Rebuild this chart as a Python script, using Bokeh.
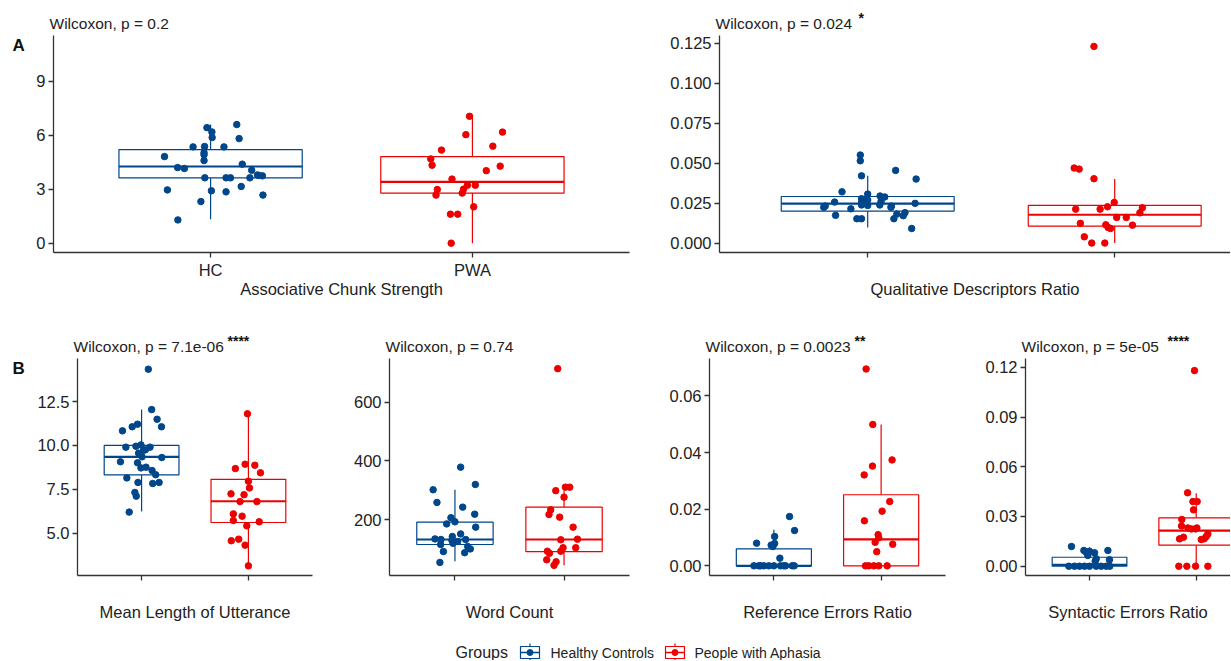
from bokeh.plotting import figure
from bokeh.models import Range1d, FixedTicker, NumeralTickFormatter, Label, ColumnDataSource, Title
from bokeh.layouts import column, row
from bokeh.embed import file_html
from bokeh.resources import INLINE

# ---------------- data ----------------
groups = ["HC", "PWA"]
legend_labels = ["Healthy Controls", "People with Aphasia"]

# A1: Associative Chunk Strength
acs_hc = [4.81, 4.20, 4.15, 5.35, 5.37, 4.91, 4.59, 5.03, 6.42, 6.18, 5.87, 5.35, 5.81, 6.59, 4.39,
          4.05, 3.79, 3.74, 3.76, 3.63, 3.63, 3.63, 3.63, 2.96, 2.91, 2.85, 3.15, 2.31, 2.67, 1.29]
acs_hc_jit = [-0.176, -0.126, -0.10, -0.067, -0.023, -0.025, -0.025, -0.025, -0.014, 0.005, 0.006, 0.051,
              0.109, 0.10, 0.121, 0.157, 0.179, 0.198, 0.185, -0.022, 0.059, 0.076, 0.15, -0.165, 0.003,
              0.059, 0.117, -0.037, 0.20, -0.125]
acs_pwa = [7.05, 6.03, 6.17, 5.39, 5.17, 4.68, 4.33, 4.28, 4.03, 3.56, 2.98, 2.67, 3.00, 2.78, 3.22,
           3.22, 1.61, 1.61, 2.02, 0.0]
acs_pwa_jit = [-0.011, -0.025, 0.115, 0.078, -0.118, -0.159, -0.154, 0.106, 0.053, -0.078, -0.134, -0.139,
               -0.034, -0.039, -0.019, 0.011, -0.084, -0.056, 0.005, -0.081]
acs_hc_box = [1.33, 3.63, 4.26, 5.20, 6.60]     # lower whisker, Q1, median, Q3, upper whisker
acs_pwa_box = [0.0, 2.78, 3.41, 4.81, 7.07]

# A2: Qualitative Descriptors Ratio
qdr_hc = [0.055, 0.0514, 0.042, 0.0454, 0.040, 0.032, 0.0256, 0.0223, 0.0231, 0.0173, 0.0214, 0.0152,
          0.0152, 0.0277, 0.0252, 0.0306, 0.0269, 0.0238, 0.0235, 0.0294, 0.0288, 0.026, 0.0238, 0.0231,
          0.0223, 0.0181, 0.0152, 0.0171, 0.019, 0.0248, 0.0091]
qdr_hc_jit = [-0.03, -0.03, -0.025, 0.113, 0.196, -0.104, -0.134, -0.178, -0.172, -0.13, -0.068, -0.044,
              -0.025, -0.025, -0.025, 0.0, 0.0, -0.025, 0.0, 0.05, 0.069, 0.054, 0.049, 0.096, 0.094,
              0.118, 0.106, 0.144, 0.151, 0.192, 0.178]
qdr_pwa = [0.1229, 0.0469, 0.0462, 0.0402, 0.0254, 0.0227, 0.0212, 0.0212, 0.0221, 0.0189, 0.016, 0.016,
           0.0123, 0.0114, 0.0091, 0.0112, 0.0039, 0.0, 0.0, 0.0098]
qdr_pwa_jit = [-0.084, -0.164, -0.144, -0.084, -0.002, -0.029, -0.158, -0.059, 0.112, 0.102, 0.008, 0.047,
               -0.139, -0.036, -0.017, 0.072, -0.123, -0.093, -0.04, -0.027]
qdr_hc_box = [0.0098, 0.0200, 0.0246, 0.0291, 0.042]
qdr_pwa_box = [0.0, 0.0106, 0.0177, 0.0235, 0.040]

# B1: Mean Length of Utterance
mlu_hc = [14.34, 12.04, 11.49, 11.06, 10.83, 11.06, 11.21, 9.90, 9.95, 10.03, 9.75, 9.90, 9.56, 9.31,
          9.07, 9.01, 8.72, 8.76, 8.57, 8.33, 8.15, 7.89, 7.83, 7.89, 7.32, 7.11, 6.20, 9.35, 9.73]
mlu_hc_jit = [0.063, 0.094, 0.145, 0.186, -0.179, -0.088, -0.038, -0.147, -0.053, -0.006, 0.035, 0.079,
              -0.028, 0.189, -0.198, -0.038, -0.006, 0.041, 0.098, 0.132, -0.138, -0.034, 0.104, 0.164,
              -0.063, -0.05, -0.116, 0.004, 0.019]
mlu_pwa = [11.8, 8.87, 8.93, 8.68, 8.44, 7.96, 7.58, 7.24, 7.19, 6.8, 6.8, 6.1, 5.97, 5.72, 5.65, 5.42,
           4.57, 4.66, 4.32, 3.14]
mlu_pwa_jit = [-0.009, 0.06, -0.031, -0.122, 0.113, 0.0, 0.01, -0.163, -0.041, -0.078, 0.079, -0.141,
               -0.059, -0.141, 0.101, -0.015, -0.16, -0.091, -0.031, 0.0]
mlu_hc_box = [6.24, 8.32, 9.35, 10.0, 12.04]
mlu_pwa_box = [3.16, 5.61, 6.82, 8.07, 11.8]

# B2: Word Count
wc_hc = [379, 320, 302, 259, 243, 219, 207, 193, 186, 175, 152, 135, 133, 133, 143, 130, 120, 126, 116,
         109, 101, 92, 88, 55]
wc_hc_jit = [0.052, 0.187, -0.2, -0.165, 0.071, 0.181, -0.037, 0.0, -0.076, 0.19, 0.052, -0.183, -0.128,
             0.098, -0.024, -0.028, -0.018, 0.025, -0.131, 0.117, 0.141, -0.106, 0.089, -0.138]
wc_pwa = [714, 299, 311, 311, 277, 234, 218, 209, 175, 132, 134, 93, 86, 93, 105, 105, 64, 57, 45]
wc_pwa_jit = [-0.058, -0.076, 0.012, 0.052, 0.0, -0.122, -0.138, -0.04, 0.083, -0.03, 0.123, -0.153,
              -0.134, -0.03, -0.009, 0.107, -0.159, -0.073, -0.092]
wc_hc_box = [59, 116, 133, 192, 302]
wc_pwa_box = [45, 92, 133, 243, 300]

# B3: Reference Errors Ratio
rer_hc = [0.0174, 0.01246, 0.01034, 0.008, 0.0073, 0.0079, 0.0068, 0.0027,
          0, 0, 0, 0, 0, 0, 0, 0, 0, 0, 0]
rer_hc_jit = [0.146, 0.193, 0.007, -0.161, -0.025, 0.007, -0.009, 0.056,
              -0.186, -0.14, -0.093, -0.047, 0.0, 0.062, 0.109, 0.171, 0.19, -0.124, 0.093]
rer_pwa = [0.0695, 0.0499, 0.0374, 0.0352, 0.0321, 0.0227, 0.0193, 0.0159, 0.011, 0.0099, 0.0083, 0.0076,
           0.005, 0, 0, 0, 0, 0]
rer_pwa_jit = [-0.14, -0.078, 0.102, -0.081, -0.158, 0.08, 0.009, -0.156, -0.028, -0.022, -0.056, 0.108,
               -0.041, -0.146, -0.116, -0.069, -0.022, 0.056]
rer_hc_box = [0, 0, 0, 0.006, 0.0127]
rer_pwa_box = [0, 0, 0.0093, 0.0251, 0.0499]

# B4: Syntactic Errors Ratio
ser_hc = [0.0119, 0.0095, 0.0095, 0.0085, 0.009, 0.0081, 0.0065, 0.0045, 0.0039, 0.003,
          0, 0, 0, 0, 0, 0, 0, 0, 0]
ser_hc_jit = [-0.169, 0.172, -0.053, -0.031, 0.0, 0.047, -0.016, 0.063, 0.187, 0.053,
              -0.194, -0.141, -0.094, -0.047, 0.0, 0.063, 0.109, 0.156, 0.19]
ser_pwa = [0.118, 0.0443, 0.039, 0.039, 0.034, 0.0282, 0.0243, 0.0231, 0.0225, 0.0225, 0.0231, 0.0165,
           0.0175, 0.0165, 0.0179, 0.0195, 0.0161, 0, 0, 0, 0]
ser_pwa_jit = [-0.016, -0.081, -0.031, 0.009, -0.025, -0.135, -0.138, -0.078, -0.044, -0.006, 0.006,
               -0.156, -0.119, 0.075, 0.094, 0.109, 0.047, -0.163, -0.088, -0.006, 0.109]
ser_hc_box = [0, 0, 0.0008, 0.0054, 0.0115]
ser_pwa_box = [0, 0.0127, 0.0215, 0.0292, 0.044]

# ---------------- style ----------------
HC_COLOR = "#00468B"
PWA_COLOR = "#ED0000"
FONT = "Liberation Sans"
TXT = "#222222"
AX = "#333333"


def make_panel(title, hc, hc_jit, pwa, pwa_jit, hc_box, pwa_box, yrange, yticks, yfmt,
               ptext, stars, star_dx, xend, width, height, bl, bt, br, bb, show_x_labels, title_dx=0):
    # outer title: significance stars (superscript-like), inner title: test result
    p = figure(width=width, height=height, x_range=Range1d(0.4, xend), y_range=Range1d(*yrange),
               output_backend="svg", toolbar_location=None, title=stars,
               min_border_left=bl, min_border_right=br, min_border_top=bt, min_border_bottom=bb)
    p.title.align = "left"
    p.title.offset = star_dx
    p.title.standoff = -33
    p.title.text_font = FONT
    p.title.text_font_size = "14px"
    p.title.text_font_style = "bold"
    p.title.text_color = "#111111"
    p.add_layout(Title(text=ptext, align="left", offset=-4, standoff=7,
                       text_font=FONT, text_font_size="15.5px", text_font_style="normal",
                       text_color=TXT), "above")
    p.xgrid.visible = False
    p.ygrid.visible = False
    p.outline_line_color = None
    p.background_fill_color = "white"
    p.border_fill_color = "white"
    for ax in (p.xaxis[0], p.yaxis[0]):
        ax.axis_line_color = AX
        ax.axis_line_width = 1.3
        ax.major_tick_line_color = AX
        ax.major_tick_line_width = 1.3
        ax.major_tick_out = 5
        ax.major_tick_in = 0
        ax.minor_tick_out = 0
        ax.minor_tick_in = 0
        ax.major_label_text_font = FONT
        ax.major_label_text_font_size = "16.5px"
        ax.major_label_text_color = TXT
        ax.major_label_standoff = 3
    p.xaxis.ticker = FixedTicker(ticks=[1, 2])
    if show_x_labels:
        p.xaxis.major_label_overrides = {1: groups[0], 2: groups[1]}
    else:
        p.xaxis.major_label_overrides = {1: " ", 2: " "}
    p.yaxis.ticker = FixedTicker(ticks=yticks)
    p.yaxis.formatter = NumeralTickFormatter(format=yfmt)

    xs = [1, 2]
    boxes = [hc_box, pwa_box]
    colors = [HC_COLOR, PWA_COLOR]
    src = ColumnDataSource(dict(
        x=xs,
        lo=[b[0] for b in boxes], q1=[b[1] for b in boxes], med=[b[2] for b in boxes],
        q3=[b[3] for b in boxes], hi=[b[4] for b in boxes],
        xl=[x - 0.35 for x in xs], xr=[x + 0.35 for x in xs], c=colors))
    p.segment(x0="x", y0="q3", x1="x", y1="hi", line_color="c", line_width=1.2, source=src)
    p.segment(x0="x", y0="q1", x1="x", y1="lo", line_color="c", line_width=1.2, source=src)
    p.quad(left="xl", right="xr", bottom="q1", top="q3", fill_color="white",
           line_color="c", line_width=1.2, source=src)
    p.segment(x0="xl", y0="med", x1="xr", y1="med", line_color="c", line_width=2.2, source=src)

    p.scatter([1 + j for j in hc_jit], hc, size=6.5, color=HC_COLOR, line_color=HC_COLOR)
    p.scatter([2 + j for j in pwa_jit], pwa, size=6.5, color=PWA_COLOR, line_color=PWA_COLOR)

    p.add_layout(Title(text=title, align="center", offset=title_dx, standoff=-7,
                       text_font=FONT, text_font_size="16.5px", text_font_style="normal",
                       text_color=TXT), "below")
    return p


def tag_fig(letter, height, bt, bb):
    fh = height - bt - bb
    f = figure(width=30, height=height, x_range=Range1d(0, 30), y_range=Range1d(0, fh),
               output_backend="svg", toolbar_location=None, x_axis_type=None, y_axis_type=None,
               min_border_left=0, min_border_right=0, min_border_top=bt, min_border_bottom=bb)
    f.xgrid.visible = False
    f.ygrid.visible = False
    f.outline_line_color = None
    f.add_layout(Label(x=12, y=fh - 10, text=letter, text_align="left", text_baseline="middle",
                       text_font=FONT, text_font_size="17px", text_font_style="bold",
                       text_color="#111111"))
    return f


ROW1_H = 318
ROW2_H = 312

pA1 = make_panel("Associative Chunk Strength", acs_hc, acs_hc_jit, acs_pwa, acs_pwa_jit,
                 acs_hc_box, acs_pwa_box, (-0.52, 11.54), [0, 3, 6, 9], "0",
                 "Wilcoxon, p = 0.2", "", 0, 2.6, 619, ROW1_H, 23, 35, 20, 66, True)
pA2 = make_panel("Qualitative Descriptors Ratio", qdr_hc, qdr_hc_jit, qdr_pwa, qdr_pwa_jit,
                 qdr_hc_box, qdr_pwa_box, (-0.0059, 0.1297), [0, 0.025, 0.05, 0.075, 0.1, 0.125], "0.000",
                 "Wilcoxon, p = 0.024", "*", 139, 0.4 + 511 / 247, 581, ROW1_H, 70, 35, 0, 66, False, 15.5)
pB1 = make_panel("Mean Length of Utterance", mlu_hc, mlu_hc_jit, mlu_pwa, mlu_pwa_jit,
                 mlu_hc_box, mlu_pwa_box, (2.59, 14.95), [5, 7.5, 10, 12.5], "0.0",
                 "Wilcoxon, p = 7.1e-06", "****", 150, 2.6, 320, ROW2_H, 47, 40, 38, 55, False)
pB2 = make_panel("Word Count", wc_hc, wc_hc_jit, wc_pwa, wc_pwa_jit,
                 wc_hc_box, wc_pwa_box, (10.5, 748.5), [200, 400, 600], "0",
                 "Wilcoxon, p = 0.74", "", 0, 2.6, 309, ROW2_H, 38, 40, 30, 55, False)
pB3 = make_panel("Reference Errors Ratio", rer_hc, rer_hc_jit, rer_pwa, rer_pwa_jit,
                 rer_hc_box, rer_pwa_box, (-0.00342, 0.0732), [0, 0.02, 0.04, 0.06], "0.00",
                 "Wilcoxon, p = 0.0023", "**", 145, 2.6, 316, ROW2_H, 50, 40, 30, 55, False)
pB4 = make_panel("Syntactic Errors Ratio", ser_hc, ser_hc_jit, ser_pwa, ser_pwa_jit,
                 ser_hc_box, ser_pwa_box, (-0.0056, 0.1253), [0, 0.03, 0.06, 0.09, 0.12], "0.00",
                 "Wilcoxon, p = 5e-05", "****", 142, 0.4 + 205 / 106.7, 255, ROW2_H, 50, 40, 0, 55,
                 False, 15.5)

tagA = tag_fig("A", ROW1_H, 35, 66)
tagB = tag_fig("B", ROW2_H, 40, 55)

# ---------------- legend strip ----------------
LEG_H = 30
leg = figure(width=1230, height=LEG_H, x_range=Range1d(0, 1230), y_range=Range1d(0, LEG_H),
             output_backend="svg", toolbar_location=None, x_axis_type=None, y_axis_type=None,
             min_border=0)
leg.xgrid.visible = False
leg.ygrid.visible = False
leg.outline_line_color = None
ly = 8
leg.add_layout(Label(x=455, y=ly, text="Groups", text_align="left", text_baseline="middle",
                     text_font=FONT, text_font_size="16px", text_color=TXT))
key_x = [529.5, 674.5]
text_x = [550, 694]
for kx, tx, c, lab in zip(key_x, text_x, [HC_COLOR, PWA_COLOR], legend_labels):
    leg.segment(x0=[kx], y0=[ly - 8], x1=[kx], y1=[ly + 9], line_color=c, line_width=1.2)
    leg.rect(x=[kx], y=[ly], width=19, height=12, fill_color="white", line_color=c, line_width=1.2)
    leg.segment(x0=[kx - 9.5], y0=[ly], x1=[kx + 9.5], y1=[ly], line_color=c, line_width=1.5)
    leg.scatter(x=[kx], y=[ly], size=6, color=c)
    leg.add_layout(Label(x=tx, y=ly, text=lab, text_align="left", text_baseline="middle",
                         text_font=FONT, text_font_size="14px", text_color=TXT))

layout = column(row(tagA, pA1, pA2), row(tagB, pB1, pB2, pB3, pB4), leg)
open("out.html", "w").write(file_html(layout, INLINE))
